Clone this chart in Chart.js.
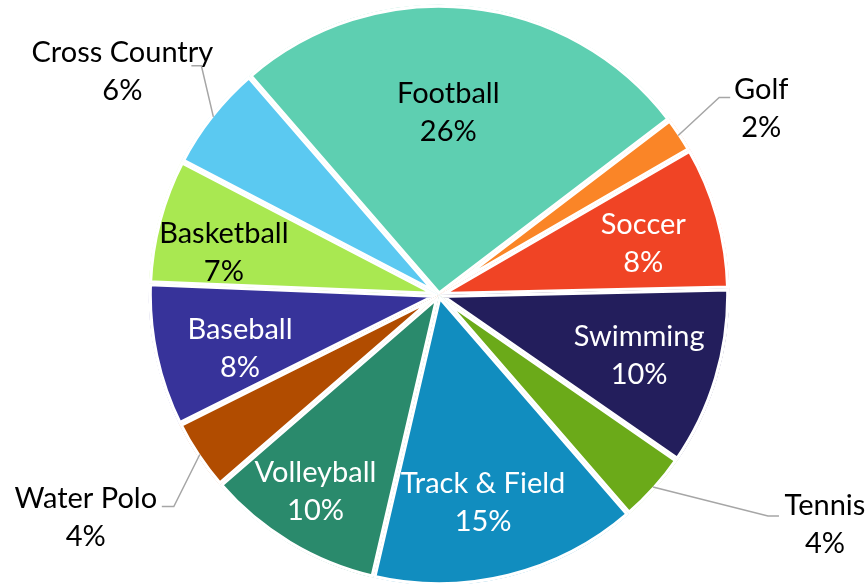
<!DOCTYPE html>
<html>
<head>
<meta charset="utf-8">
<script src="https://cdn.jsdelivr.net/npm/chart.js@4.4.1/dist/chart.umd.min.js"></script>
<style>
  html, body { margin: 0; padding: 0; background: #fff; }
</style>
</head>
<body>
<canvas id="deportes" width="868" height="584"></canvas>
<script>
const deportes = ['Baseball', 'Basketball', 'Cross Country', 'Football', 'Golf', 'Soccer',
    'Swimming', 'Tennis', 'Track & Field', 'Volleyball', 'Water Polo'];
const porcentajes = [8, 7, 6, 26, 2, 8, 10, 4, 15, 10, 4];

const colores = ['#37339A', '#A9E851', '#5BC9F1', '#5ECFB1', '#FA8527', '#F04425',
    '#231E5C', '#6BAA19', '#118DBF', '#2A8A6C', '#B14C00'];

// etiquetas dentro del sector: fraccion del radio, giro (grados) y color del texto
const etiquetasDentro = {
    'Football':      { r: 0.63, giro: -3,   color: '#000' },
    'Soccer':        { r: 0.725, giro: 1.6, color: '#fff' },
    'Swimming':      { r: 0.72, giro: 0.2,  color: '#fff' },
    'Track & Field': { r: 0.73, giro: 1.9,  color: '#fff' },
    'Volleyball':    { r: 0.80, giro: 1,    color: '#fff' },
    'Baseball':      { r: 0.71, giro: -3.1, color: '#fff' },
    'Basketball':    { r: 0.755, giro: -3.7, color: '#000' }
};

// etiquetas fuera con linea guia: codo y texto relativos al borde del sector
const etiquetasFuera = {
    'Cross Country': { codo: [-12, -51], gancho: -10, texto: [-79, 6] },
    'Golf':          { codo: [41, -38],  gancho: 11,  texto: [42, 11] },
    'Tennis':        { codo: [115, 29],  gancho: 11,  texto: [57, 9] },
    'Water Polo':    { codo: [-26, 52],  gancho: -12, texto: [-88, 11] }
};

const fuente = '29px Lato';
const interlineado = 38;
const bordeBlanco = 3;

function escribir(ctx, lineas, x, y, color) {
    ctx.fillStyle = color;
    ctx.font = fuente;
    ctx.textAlign = 'center';
    ctx.textBaseline = 'middle';
    ctx.fillText(lineas[0], x, y - interlineado / 2);
    ctx.fillText(lineas[1], x, y + interlineado / 2);
}

const pluginEtiquetas = {
    id: 'etiquetas',
    afterDatasetsDraw(chart) {
        const ctx = chart.ctx;
        const meta = chart.getDatasetMeta(0);
        ctx.save();
        meta.data.forEach((arco, i) => {
            const { x, y, startAngle, endAngle, outerRadius } = arco.getProps(['x', 'y', 'startAngle', 'endAngle', 'outerRadius'], true);
            const nombre = deportes[i];
            const lineas = [nombre, porcentajes[i] + '%'];
            const medio = (startAngle + endAngle) / 2;
            const dentro = etiquetasDentro[nombre];
            if (dentro) {
                const a = medio + dentro.giro * Math.PI / 180;
                const r = outerRadius * dentro.r;
                escribir(ctx, lineas, x + Math.cos(a) * r, y + Math.sin(a) * r, dentro.color);
                return;
            }
            const fuera = etiquetasFuera[nombre];
            const rb = outerRadius - bordeBlanco;
            const x0 = x + Math.cos(medio) * rb;
            const y0 = y + Math.sin(medio) * rb;
            const x1 = x0 + fuera.codo[0];
            const y1 = y0 + fuera.codo[1];
            ctx.strokeStyle = '#A6A6A6';
            ctx.lineWidth = 1.5;
            ctx.beginPath();
            ctx.moveTo(x0, y0);
            ctx.lineTo(x1, y1);
            ctx.lineTo(x1 + fuera.gancho, y1);
            ctx.stroke();
            escribir(ctx, lineas, x1 + fuera.texto[0], y1 + fuera.texto[1], '#000');
        });
        ctx.restore();
    }
};

new Chart(document.getElementById('deportes'), {
    type: 'pie',
    data: {
        labels: deportes,
        datasets: [{
            data: porcentajes,
            backgroundColor: colores,
            borderColor: '#fff',
            borderWidth: bordeBlanco,
            borderAlign: 'inner'
        }]
    },
    options: {
        responsive: false,
        animation: false,
        rotation: -116.5,
        radius: 290.5,
        layout: { padding: { left: 10, right: 0, top: 6, bottom: 0 } },
        plugins: {
            legend: { display: false },
            tooltip: { enabled: false }
        }
    },
    plugins: [pluginEtiquetas]
});
</script>
</body>
</html>
